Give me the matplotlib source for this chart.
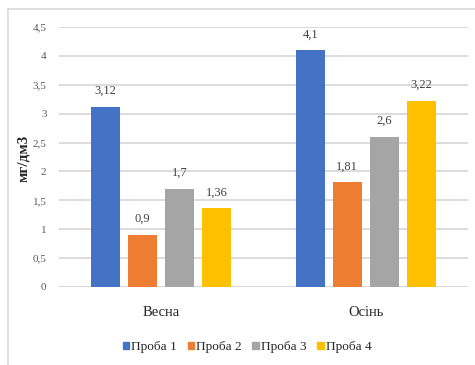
import matplotlib
matplotlib.use("Agg")
import matplotlib.pyplot as plt
from matplotlib.lines import Line2D
import numpy as np

plt.rcParams['font.family'] = ['Liberation Serif', 'DejaVu Serif']

categories = ["Весна", "Осінь"]
series_names = ["Проба 1", "Проба 2", "Проба 3", "Проба 4"]
values = [
    [3.12, 4.1],
    [0.9, 1.81],
    [1.7, 2.6],
    [1.36, 3.22],
]
value_labels = [
    ["3,12", "4,1"],
    ["0,9", "1,81"],
    ["1,7", "2,6"],
    ["1,36", "3,22"],
]
colors = ["#4472C4", "#ED7D31", "#A5A5A5", "#FFC000"]
y_ticks = [0, 0.5, 1, 1.5, 2, 2.5, 3, 3.5, 4, 4.5]
y_tick_labels = ["0", "0,5", "1", "1,5", "2", "2,5", "3", "3,5", "4", "4,5"]
y_label = "мг/дм3"

W, H = 475, 365
fig = plt.figure(figsize=(W / 100, H / 100), dpi=100)
ax = fig.add_axes([59 / W, 1 - 287 / H, (468 - 59) / W, (287 - 27) / H])

x = np.arange(len(categories))
bar_w = 0.143
step = 0.181
for i, (name, vals, col) in enumerate(zip(series_names, values, colors)):
    pos = x + (i - 1.5) * step
    ax.bar(pos, vals, width=bar_w, color=col, label=name, zorder=3)
    for xb, v, lab in zip(pos, vals, value_labels[i]):
        ax.text(xb, v + 0.17, lab, ha="center", va="bottom",
                fontsize=9, color="#404040")

ax.set_xlim(-0.5, 1.5)
ax.set_ylim(0, 4.5)
ax.set_yticks(y_ticks)
ax.set_yticklabels(y_tick_labels, fontsize=8, color="#595959")
ax.set_xticks(x)
ax.set_xticklabels(categories, fontsize=10.5, color="#262626")
ax.tick_params(axis="x", length=0, pad=14)
ax.tick_params(axis="y", length=0, pad=9)
ax.grid(axis="y", color="#D9D9D9", linewidth=1.3, zorder=0)
for s in ax.spines.values():
    s.set_visible(False)
ax.axhline(0, color="#D9D9D9", linewidth=1.3, zorder=2)

fig.text(24 / W, 1 - 158 / H, y_label, rotation=90, ha="center", va="center",
         fontsize=11, fontweight="bold", color="#262626")

handles = [plt.Rectangle((0, 0), 1, 1, color=c) for c in colors]
fig.legend(handles, series_names, loc="center", bbox_to_anchor=(247 / W, 1 - 347 / H),
           ncol=4, frameon=False, fontsize=9.5, handlelength=0.5, handleheight=0.5,
           handletextpad=0.15, columnspacing=0.8, labelcolor="#262626")

# frame edges (top and left)
fig.add_artist(Line2D([8 / W, 1], [1 - 9 / H, 1 - 9 / H], color="#D9D9D9", linewidth=1.2))
fig.add_artist(Line2D([8 / W, 8 / W], [0, 1 - 9 / H], color="#D9D9D9", linewidth=1.2))

fig.savefig("out.png", dpi=100, facecolor="white")
